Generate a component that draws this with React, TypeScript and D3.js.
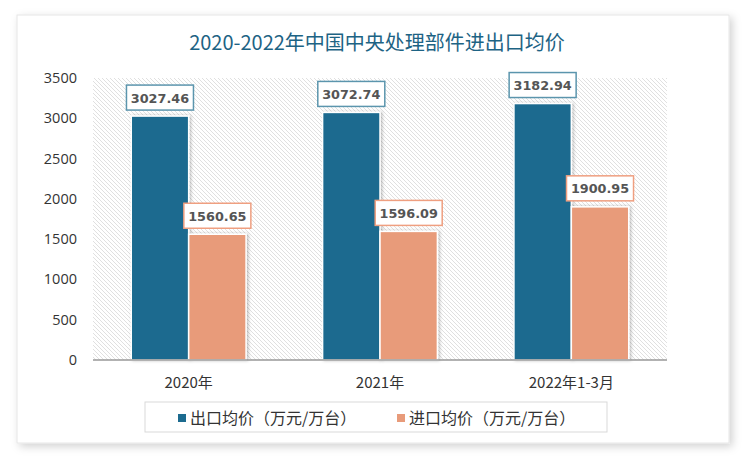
import React from "react";
import * as d3 from "d3";

const categories = ["2020年", "2021年", "2022年1-3月"];
const exportValues = [3027.46, 3072.74, 3182.94];
const importValues = [1560.65, 1596.09, 1900.95];
const seriesNames = ["出口均价（万元/万台）", "进口均价（万元/万台）"];
const yTicks = [0, 500, 1000, 1500, 2000, 2500, 3000, 3500];
const title = "2020-2022年中国中央处理部件进出口均价";

const W = 750, H = 461;
const colors = ["#1c6b8f", "#e89b7a"];
const borderColors = ["#5b95ad", "#ef9f80"];

export default function App() {
  const x0 = d3.scaleBand<string>().domain(categories).range([93, 667]).paddingInner(0.4).paddingOuter(0.2);
  const x1 = d3.scaleBand<number>().domain([0, 1]).range([0, x0.bandwidth()]);
  const y = d3.scaleLinear().domain([0, 3500]).range([360, 78]);
  const series = [exportValues, importValues];
  const cjk = "'Noto Sans CJK SC', 'Noto Sans', sans-serif";
  return (
    <div style={{ position: "absolute", left: 0, top: 0, width: W, height: H, background: "#fff" }}>
      <svg width={W} height={H} style={{ display: "block" }}>
        <defs>
          <pattern id="hatch" patternUnits="userSpaceOnUse" width="4" height="4">
            <rect width="4" height="4" fill="#fff" />
            <path d="M-1,-1 L5,5 M-1,3 L1,5 M3,-1 L5,1" stroke="#dcdcdc" strokeWidth="0.9" />
          </pattern>
          <filter id="shadow" x="-5%" y="-5%" width="110%" height="110%">
            <feDropShadow dx="3" dy="3" stdDeviation="4" floodColor="#000" floodOpacity="0.18" />
          </filter>
          <filter id="barShadow" x="-20%" y="-5%" width="140%" height="110%">
            <feDropShadow dx="1.5" dy="0" stdDeviation="1.5" floodColor="#000" floodOpacity="0.25" />
          </filter>
        </defs>
        <rect x={17} y={15} width={712} height={428} fill="#fff" stroke="#e6e6e6" strokeWidth={1} filter="url(#shadow)" />
        <text x={377} y={50} textAnchor="middle" fontFamily={cjk} fontSize={20} fill="#1d6384">{title}</text>
        <rect x={93} y={78} width={574} height={282} fill="url(#hatch)" />
        {yTicks.map((t) => (
          <text key={t} x={77} y={y(t) + 5} textAnchor="end" fontFamily="'Open Sans', sans-serif" fontSize={14.5} fill="#333">{t}</text>
        ))}
        {categories.map((c, i) => (
          <g key={c}>
            {series.map((vals, s) => {
              const bx = (x0(c) as number) + (x1(s) as number);
              const bw = x1.bandwidth();
              const v = vals[i];
              const top = y(v);
              const label = v.toFixed(2);
              const lw = 67, lh = 25;
              const cx = bx + bw / 2;
              return (
                <g key={s}>
                  <rect x={bx} y={top} width={bw} height={360 - top} fill={colors[s]} stroke="#fff" strokeWidth={1.5} filter="url(#barShadow)" />
                  <rect x={cx - lw / 2} y={top - 6 - lh} width={lw} height={lh} fill="#fff" stroke={borderColors[s]} strokeWidth={1.5} />
                  <text x={cx} y={top - 6 - lh / 2 + 5} textAnchor="middle" fontFamily="'DejaVu Sans', sans-serif" fontWeight="bold" fontSize={12.8} fill="#555">{label}</text>
                </g>
              );
            })}
            <text x={(x0(c) as number) + x0.bandwidth() / 2} y={388} textAnchor="middle" fontFamily={cjk} fontSize={15} fill="#333">{c}</text>
          </g>
        ))}
        <line x1={93} x2={667} y1={360} y2={360} stroke="#999" strokeWidth={1.5} />
        <rect x={145} y={402} width={462} height={30} fill="#fff" stroke="#d9d9d9" strokeWidth={1} />
        {seriesNames.map((n, s) => {
          const lx = s === 0 ? 178 : 397;
          return (
            <g key={n}>
              <rect x={lx} y={414} width={8} height={8} fill={colors[s]} />
              <text x={lx + 12} y={423.5} fontFamily={cjk} fontSize={16} fill="#333">{n}</text>
            </g>
          );
        })}
      </svg>
    </div>
  );
}
